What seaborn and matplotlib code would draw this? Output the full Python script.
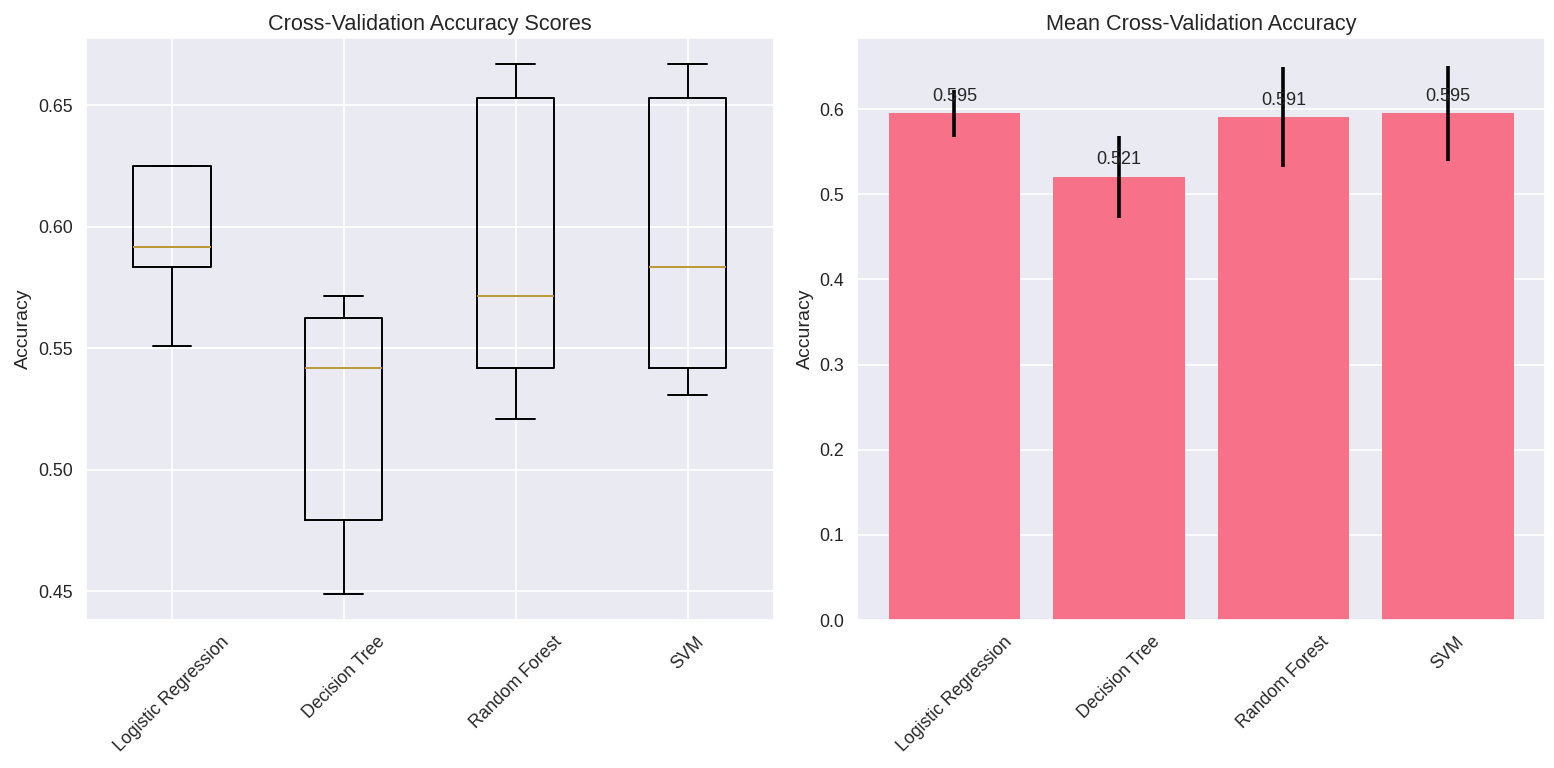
import numpy as np
import matplotlib
matplotlib.use("Agg")
import matplotlib.pyplot as plt
import seaborn as sns

models = ["Logistic Regression", "Decision Tree", "Random Forest", "SVM"]
lr_scores = [0.5510, 0.5833, 0.5917, 0.6250, 0.6250]
dt_scores = [0.4490, 0.4792, 0.5417, 0.5625, 0.5714]
rf_scores = [0.5208, 0.5417, 0.5714, 0.6531, 0.6667]
svm_scores = [0.5306, 0.5417, 0.5833, 0.6531, 0.6667]

sns.set_theme(style="darkgrid", palette="husl", rc={
    "axes.facecolor": "#EAEAF2",
    "grid.color": "white",
    "grid.linewidth": 1.25,
    "xtick.labelsize": 12.8,
    "ytick.labelsize": 12.8,
    "axes.labelsize": 14,
    "axes.titlesize": 15.6,
    "font.size": 13,
})
plt.rcParams["font.family"] = ["Liberation Sans", "DejaVu Sans"]

all_scores = [lr_scores, dt_scores, rf_scores, svm_scores]
means = [float(np.mean(s)) for s in all_scores]
stds = [float(np.std(s)) for s in all_scores]
pal = sns.color_palette("husl")

fig, (ax1, ax2) = plt.subplots(1, 2, figsize=(15.54, 7.68), dpi=100)
fig.subplots_adjust(left=0.0553, right=0.9942, top=0.9505, bottom=0.1927, wspace=0.122)

lw = 1.4
ax1.boxplot(all_scores, tick_labels=models,
            boxprops=dict(color="black", linewidth=lw),
            whiskerprops=dict(color="black", linewidth=lw),
            capprops=dict(color="black", linewidth=lw),
            medianprops=dict(color=pal[1], linewidth=lw))
ax1.set_title("Cross-Validation Accuracy Scores")
ax1.set_ylabel("Accuracy")
ax1.tick_params(axis="x", rotation=45)

sns.barplot(x=models, y=means, ax=ax2, color=pal[0], saturation=1, errorbar=None,
            width=0.8, linewidth=0, edgecolor="none")
ax2.errorbar(range(len(models)), means, yerr=stds, fmt="none", ecolor="black", elinewidth=2.6, capsize=0)
ax2.autoscale(enable=True, axis="x")
for i, m in enumerate(means):
    ax2.text(i, m + 0.01, f"{m:.3f}", ha="center", va="bottom", fontsize=13, color="#262626")
ax2.set_title("Mean Cross-Validation Accuracy")
ax2.set_ylabel("Accuracy")
ax2.tick_params(axis="x", rotation=45)

fig.savefig("out.png", dpi=100)
